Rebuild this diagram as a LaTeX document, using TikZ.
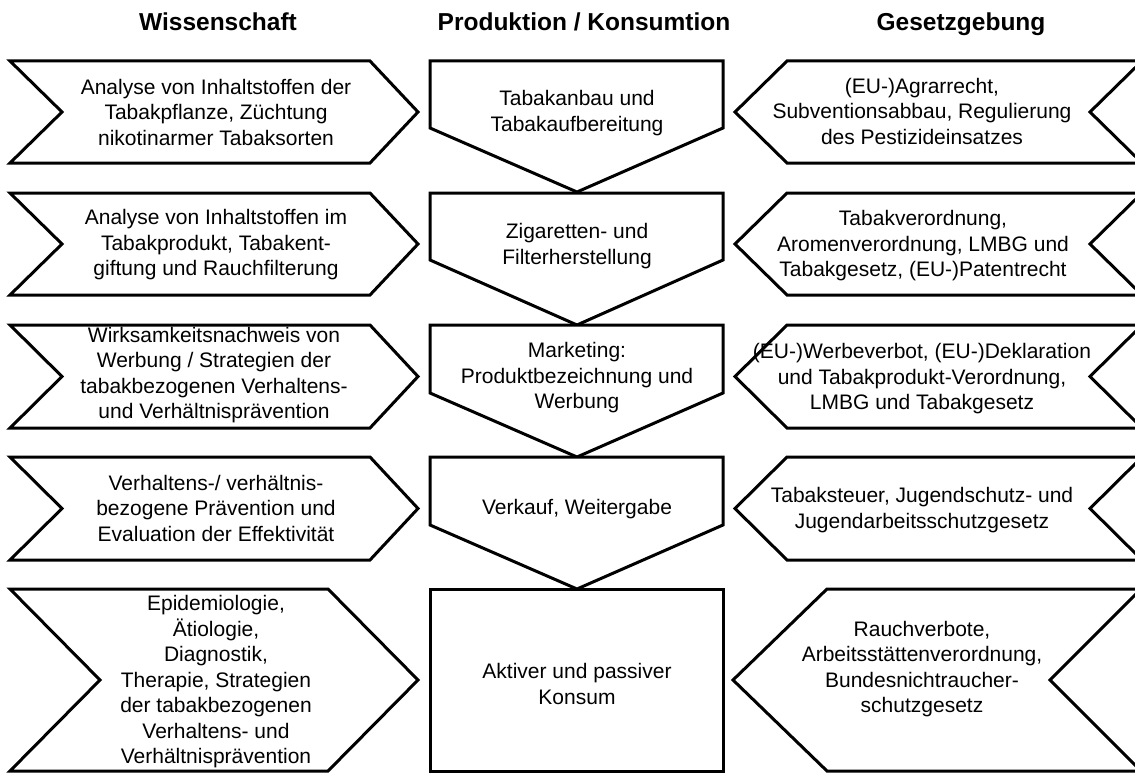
\documentclass[tikz,border=0pt]{standalone}
\usepackage{fontspec}
\setmainfont{Liberation Sans}
\begin{document}
\begin{tikzpicture}[x=1pt,y=-1pt,
  shp/.style={draw=black, line width=3pt, fill=white, line join=miter},
  txt/.style={align=center, font=\fontsize{21}{25.5}\selectfont, inner sep=0pt},
  hdr/.style={anchor=base, font=\fontsize{24.5}{28}\selectfont\bfseries, inner sep=0pt}]
\useasboundingbox (0,0) rectangle (1135,773);
\clip (0,0) rectangle (1135,773);

% headers
\node[hdr] (h1) at (218,31) {Wissenschaft};
\node[hdr] (h2) at (584,31) {Produktion / Konsumtion};
\node[hdr] (h3) at (961,31) {Gesetzgebung};

% left chevrons (rows 1-4)
\foreach \t/\b in {61/163, 193/295, 325/428, 457/560}{
  \draw[shp] (10,\t) -- (370,\t) -- (418,{(\t+\b)/2}) -- (370,\b) -- (10,\b) -- (62,{(\t+\b)/2}) -- cycle;
}
% left chevron row 5
\draw[shp] (10,589) -- (328,589) -- (418,680) -- (328,771) -- (10,771) -- (100,680) -- cycle;

% center pentagons
\foreach \t/\s/\p in {61/128/192, 193/260/325, 325/393/457, 457/525/589}{
  \draw[shp] (430,\t) -- (723,\t) -- (723,\s) -- (577,\p) -- (430,\s) -- cycle;
}
\draw[shp] (430,589) rectangle (723,771);

% right shapes (rows 1-4)
\foreach \t/\b in {61/163, 193/295, 325/428, 457/560}{
  \draw[shp] (735,{(\t+\b)/2}) -- (787,\t) -- (1142,\t) -- (1090,{(\t+\b)/2}) -- (1142,\b) -- (787,\b) -- cycle;
}
\draw[shp] (733,680) -- (827,589) -- (1141,589) -- (1050,680) -- (1141,771) -- (827,771) -- cycle;

% left texts
\node[txt] (l1) at (216,112) {Analyse von Inhaltstoffen der\\Tabakpflanze, Züchtung\\nikotinarmer Tabaksorten};
\node[txt] (l2) at (216,245) {Analyse von Inhaltstoffen im\\Tabakprodukt, Tabakent-\\giftung und Rauchfilterung};
\node[txt] (l3) at (214,375) {Wirksamkeitsnachweis von\\Werbung / Strategien der\\tabakbezogenen Verhaltens-\\und Verhältnisprävention};
\node[txt] (l4) at (216,508) {Verhaltens-/ verhältnis-\\bezogene Prävention und\\Evaluation der Effektivität};
\node[txt] (l5) at (216,682) {Epidemiologie,\\Ätiologie,\\Diagnostik,\\Therapie, Strategien\\der tabakbezogenen\\Verhaltens- und\\Verhältnisprävention};

% center texts
\node[txt] (c1) at (577,113) {Tabakanbau und\\Tabakaufbereitung};
\node[txt] (c2) at (577,246) {Zigaretten- und\\Filterherstellung};
\node[txt] (c3) at (577,378) {Marketing:\\Produktbezeichnung und\\Werbung};
\node[txt] (c4) at (577,509) {Verkauf, Weitergabe};
\node[txt] (c5) at (577,684) {Aktiver und passiver\\Konsum};

% right texts
\node[txt] (r1) at (922,111) {(EU-)Agrarrecht,\\Subventionsabbau, Regulierung\\des Pestizideinsatzes};
\node[txt] (r2) at (923,246) {Tabakverordnung,\\Aromenverordnung, LMBG und\\Tabakgesetz, (EU-)Patentrecht};
\node[txt] (r3) at (922,379) {(EU-)Werbeverbot, (EU-)Deklaration\\und Tabakprodukt-Verordnung,\\LMBG und Tabakgesetz};
\node[txt] (r4) at (922,510) {Tabaksteuer, Jugendschutz- und\\Jugendarbeitsschutzgesetz};
\node[txt] (r5) at (922,669) {Rauchverbote,\\Arbeitsstättenverordnung,\\Bundesnichtraucher-\\schutzgesetz};
\end{tikzpicture}
\end{document}
